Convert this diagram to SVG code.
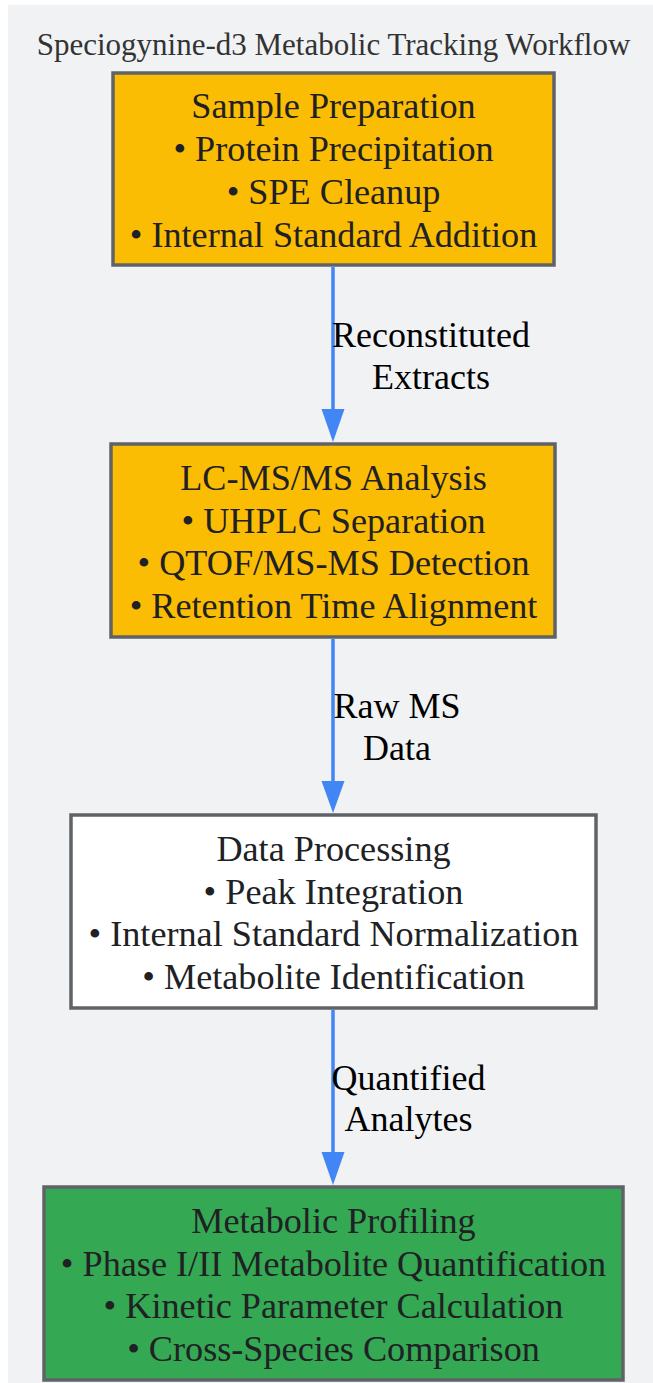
<svg xmlns="http://www.w3.org/2000/svg" width="653" height="1383" viewBox="0 0 653 1383">
<defs>
<style>
.bg{fill:#f1f2f4;}
.node{stroke:#5f6368;stroke-width:3.5;}
.nt{font-family:"Liberation Serif","Times New Roman",serif;font-size:36.2px;fill:#202124;text-anchor:middle;}
.el{font-family:"Liberation Serif","Times New Roman",serif;font-size:36px;fill:#000;text-anchor:middle;}
.title{font-family:"Liberation Serif","Times New Roman",serif;font-size:31px;fill:#333;text-anchor:middle;}
.edge{stroke:#4285f4;stroke-width:3.5;fill:none;}
.head{fill:#4285f4;}
</style>
</defs>
<rect class="bg" x="8" y="5" width="660" height="1395"/>
<text class="title" x="333.5" y="55">Speciogynine-d3 Metabolic Tracking Workflow</text>
<g id="connectors">
<path class="edge" d="M333,267 L333,409"/>
<path class="head" d="M321.5,409 L344.5,409 L333,442 Z"/>
<text class="el" x="431" y="347">Reconstituted</text>
<text class="el" x="431" y="389">Extracts</text>
<path class="edge" d="M333,639 L333,781"/>
<path class="head" d="M321.5,781 L344.5,781 L333,813 Z"/>
<text class="el" x="397" y="718">Raw MS</text>
<text class="el" x="397" y="760">Data</text>
<path class="edge" d="M333,1010 L333,1152"/>
<path class="head" d="M321.5,1152 L344.5,1152 L333,1185 Z"/>
<text class="el" x="408.5" y="1090">Quantified</text>
<text class="el" x="408.5" y="1131">Analytes</text>
</g>
<g id="node-sample">
<rect class="node" x="113" y="73" width="441" height="192" fill="#fbbc04"/>
<text class="nt" x="333.5" y="118">Sample Preparation</text>
<text class="nt" x="333.5" y="161">• Protein Precipitation</text>
<text class="nt" x="333.5" y="204">• SPE Cleanup</text>
<text class="nt" x="333.5" y="247">• Internal Standard Addition</text>
</g>
<g id="node-lcms">
<rect class="node" x="111" y="444" width="444" height="193" fill="#fbbc04"/>
<text class="nt" x="333.5" y="490">LC-MS/MS Analysis</text>
<text class="nt" x="333.5" y="532.5">• UHPLC Separation</text>
<text class="nt" x="333.5" y="575">• QTOF/MS-MS Detection</text>
<text class="nt" x="333.5" y="617.5">• Retention Time Alignment</text>
</g>
<g id="node-data">
<rect class="node" x="71" y="815" width="525" height="193" fill="#ffffff"/>
<text class="nt" x="333.5" y="861">Data Processing</text>
<text class="nt" x="333.5" y="903.5">• Peak Integration</text>
<text class="nt" x="333.5" y="946">• Internal Standard Normalization</text>
<text class="nt" x="333.5" y="988.5">• Metabolite Identification</text>
</g>
<g id="node-profiling">
<rect class="node" x="44" y="1187" width="579" height="193" fill="#34a853"/>
<text class="nt" x="333.5" y="1233">Metabolic Profiling</text>
<text class="nt" x="333.5" y="1275.5">• Phase I/II Metabolite Quantification</text>
<text class="nt" x="333.5" y="1318">• Kinetic Parameter Calculation</text>
<text class="nt" x="333.5" y="1360.5">• Cross-Species Comparison</text>
</g>
</svg>
